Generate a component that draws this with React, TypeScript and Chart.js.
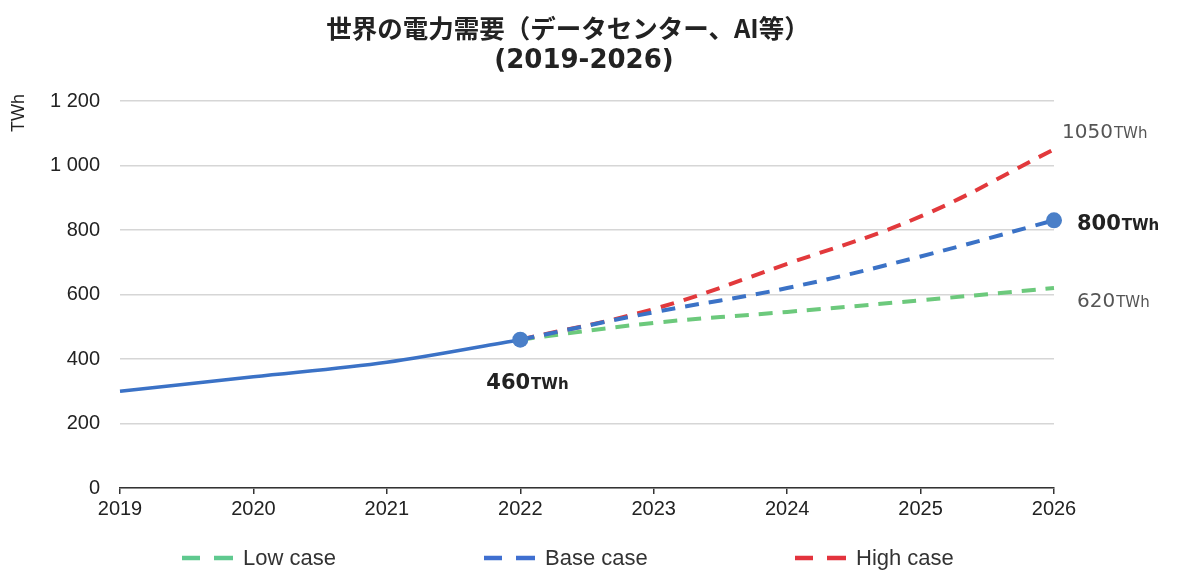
import React, { useEffect, useRef } from "react";
import { Chart, registerables } from "chart.js";

Chart.register(...registerables);

const years = ["2019", "2020", "2021", "2022", "2023", "2024", "2025", "2026"];
const actual = [300, 345, 390, 460, null, null, null, null];
const lowCase = [null, null, null, 460, 512, 546, 582, 620];
const baseCase = [null, null, null, 460, 545, 620, 718, 830];
const highCase = [null, null, null, 460, 555, 695, 842, 1050];
const legendLabels = ["Low case", "Base case", "High case"];
const titleLines = ["世界の電力需要（データセンター、AI等）", "(2019-2026)"];
const yTicks = [0, 200, 400, 600, 800, 1000, 1200];

const BLUE = "#3b72c6";
const RED = "#e2393c";
const GREEN = "#6cc97c";

export default function App() {
  const ref = useRef<HTMLCanvasElement | null>(null);
  useEffect(() => {
    if (!ref.current) return;
    const overlay = {
      id: "overlay",
      afterDraw(chart: any) {
        const ctx = chart.ctx;
        const xs = chart.scales.x;
        const ys = chart.scales.y;
        ctx.save();
        // title
        ctx.fillStyle = "#222";
        ctx.textAlign = "center";
        ctx.textBaseline = "middle";
        ctx.font = "bold 25.5px 'Noto Sans CJK JP'";
        ctx.fillText(titleLines[0], 568, 28);
        ctx.font = "bold 26px 'DejaVu Sans'";
        ctx.fillText(titleLines[1], 584, 61);
        // y title
        ctx.save();
        ctx.translate(19, 113);
        ctx.rotate(-Math.PI / 2);
        ctx.font = "18px 'Liberation Sans'";
        ctx.fillStyle = "#222";
        ctx.fillText("TWh", 0, 0);
        ctx.restore();
        // annotations
        const drawVal = (val: string, x: number, y: number, bold: boolean, color: string, size: number) => {
          ctx.textAlign = "left";
          ctx.textBaseline = "alphabetic";
          ctx.fillStyle = color;
          ctx.font = (bold ? "bold " : "") + size + "px 'DejaVu Sans'";
          ctx.fillText(val, x, y);
          const w = ctx.measureText(val).width;
          ctx.font = (bold ? "bold " : "") + "15px 'DejaVu Sans'";
          ctx.fillText("TWh", x + w + 1, y);
        };
        const x22 = xs.getPixelForValue(3);
        const x26 = xs.getPixelForValue(7);
        drawVal(String(actual[3]), x22 - 34, ys.getPixelForValue(actual[3] as number) + 49, true, "#222", 21);
        drawVal(String(highCase[7]), x26 + 8, ys.getPixelForValue(1000) - 28, false, "#555", 20);
        drawVal("800", x26 + 23, ys.getPixelForValue(800) + 0, true, "#222", 21);
        drawVal(String(lowCase[7]), x26 + 23, ys.getPixelForValue(600) + 12, false, "#555", 20);
        // legend
        const cols = ["#5fc98f", "#3f6fd0", "#e3333d"];
        const lx = [182, 484, 795];
        const ly = 558;
        legendLabels.forEach((lab, i) => {
          ctx.strokeStyle = cols[i];
          ctx.lineWidth = 4.5;
          ctx.beginPath();
          ctx.moveTo(lx[i], ly);
          ctx.lineTo(lx[i] + 18, ly);
          ctx.moveTo(lx[i] + 32, ly);
          ctx.lineTo(lx[i] + 51, ly);
          ctx.stroke();
          ctx.fillStyle = "#333";
          ctx.font = "22px 'Liberation Sans'";
          ctx.textAlign = "left";
          ctx.textBaseline = "middle";
          ctx.fillText(lab, lx[i] + 61, ly + 1);
        });
        ctx.restore();
      },
    };
    const dashed = (data: any[], color: string, extra: any = {}) => ({
      data,
      borderColor: color,
      backgroundColor: color,
      borderWidth: 4,
      borderDash: [14, 10],
      pointRadius: 0,
      tension: 0.4,
      spanGaps: false,
      ...extra,
    });
    const chart = new Chart(ref.current, {
      type: "line",
      data: {
        labels: years,
        datasets: [
          {
            data: actual,
            borderColor: BLUE,
            backgroundColor: "#4a7fc8",
            borderWidth: 3.5,
            pointRadius: actual.map((_, i) => (i === 3 ? 8 : 0)),
            pointBorderWidth: 0,
            cubicInterpolationMode: "monotone",
          },
          dashed(baseCase, BLUE, {
            pointRadius: baseCase.map((_, i) => (i === 7 ? 8 : 0)),
            backgroundColor: "#4a7fc8",
            pointBorderWidth: 0,
          }),
          dashed(highCase, RED),
          dashed(lowCase, GREEN),
        ] as any,
      },
      options: {
        animation: false,
        responsive: false,
        maintainAspectRatio: false,
        layout: { padding: { left: 0, right: 124, top: 101, bottom: 0 } },
        plugins: { legend: { display: false }, tooltip: { enabled: false }, title: { display: false } },
        scales: {
          x: {
            type: "category",
            offset: false,
            grid: { display: true, drawOnChartArea: false, drawTicks: true, tickLength: 6, color: "#333", lineWidth: 1.5 },
            border: { display: true, color: "#333", width: 1.5 },
            ticks: { color: "#222", font: { family: "'Liberation Sans'", size: 20 }, padding: 3, maxRotation: 0, autoSkip: false },
            afterFit: (s: any) => { s.height = 84; },
          },
          y: {
            min: 0,
            max: 1200,
            afterBuildTicks: (s: any) => { s.ticks = yTicks.map((v) => ({ value: v })); },
            grid: { color: "#d6d6d6", lineWidth: 1.5, drawTicks: false },
            border: { display: false },
            ticks: {
              color: "#222",
              font: { family: "'Liberation Sans'", size: 20 },
              padding: 20,
              callback: (v: any) => String(v).replace(/\B(?=(\d{3})+(?!\d))/g, " "),
            },
            afterFit: (s: any) => { s.width = 120; },
          },
        },
      } as any,
      plugins: [overlay],
    });
    return () => chart.destroy();
  }, []);
  return (
    <div style={{ position: "fixed", left: 0, top: 0, width: 1178, height: 572, background: "#fff" }}>
      <canvas ref={ref} width={1178} height={572} style={{ width: 1178, height: 572, display: "block" }} />
    </div>
  );
}
